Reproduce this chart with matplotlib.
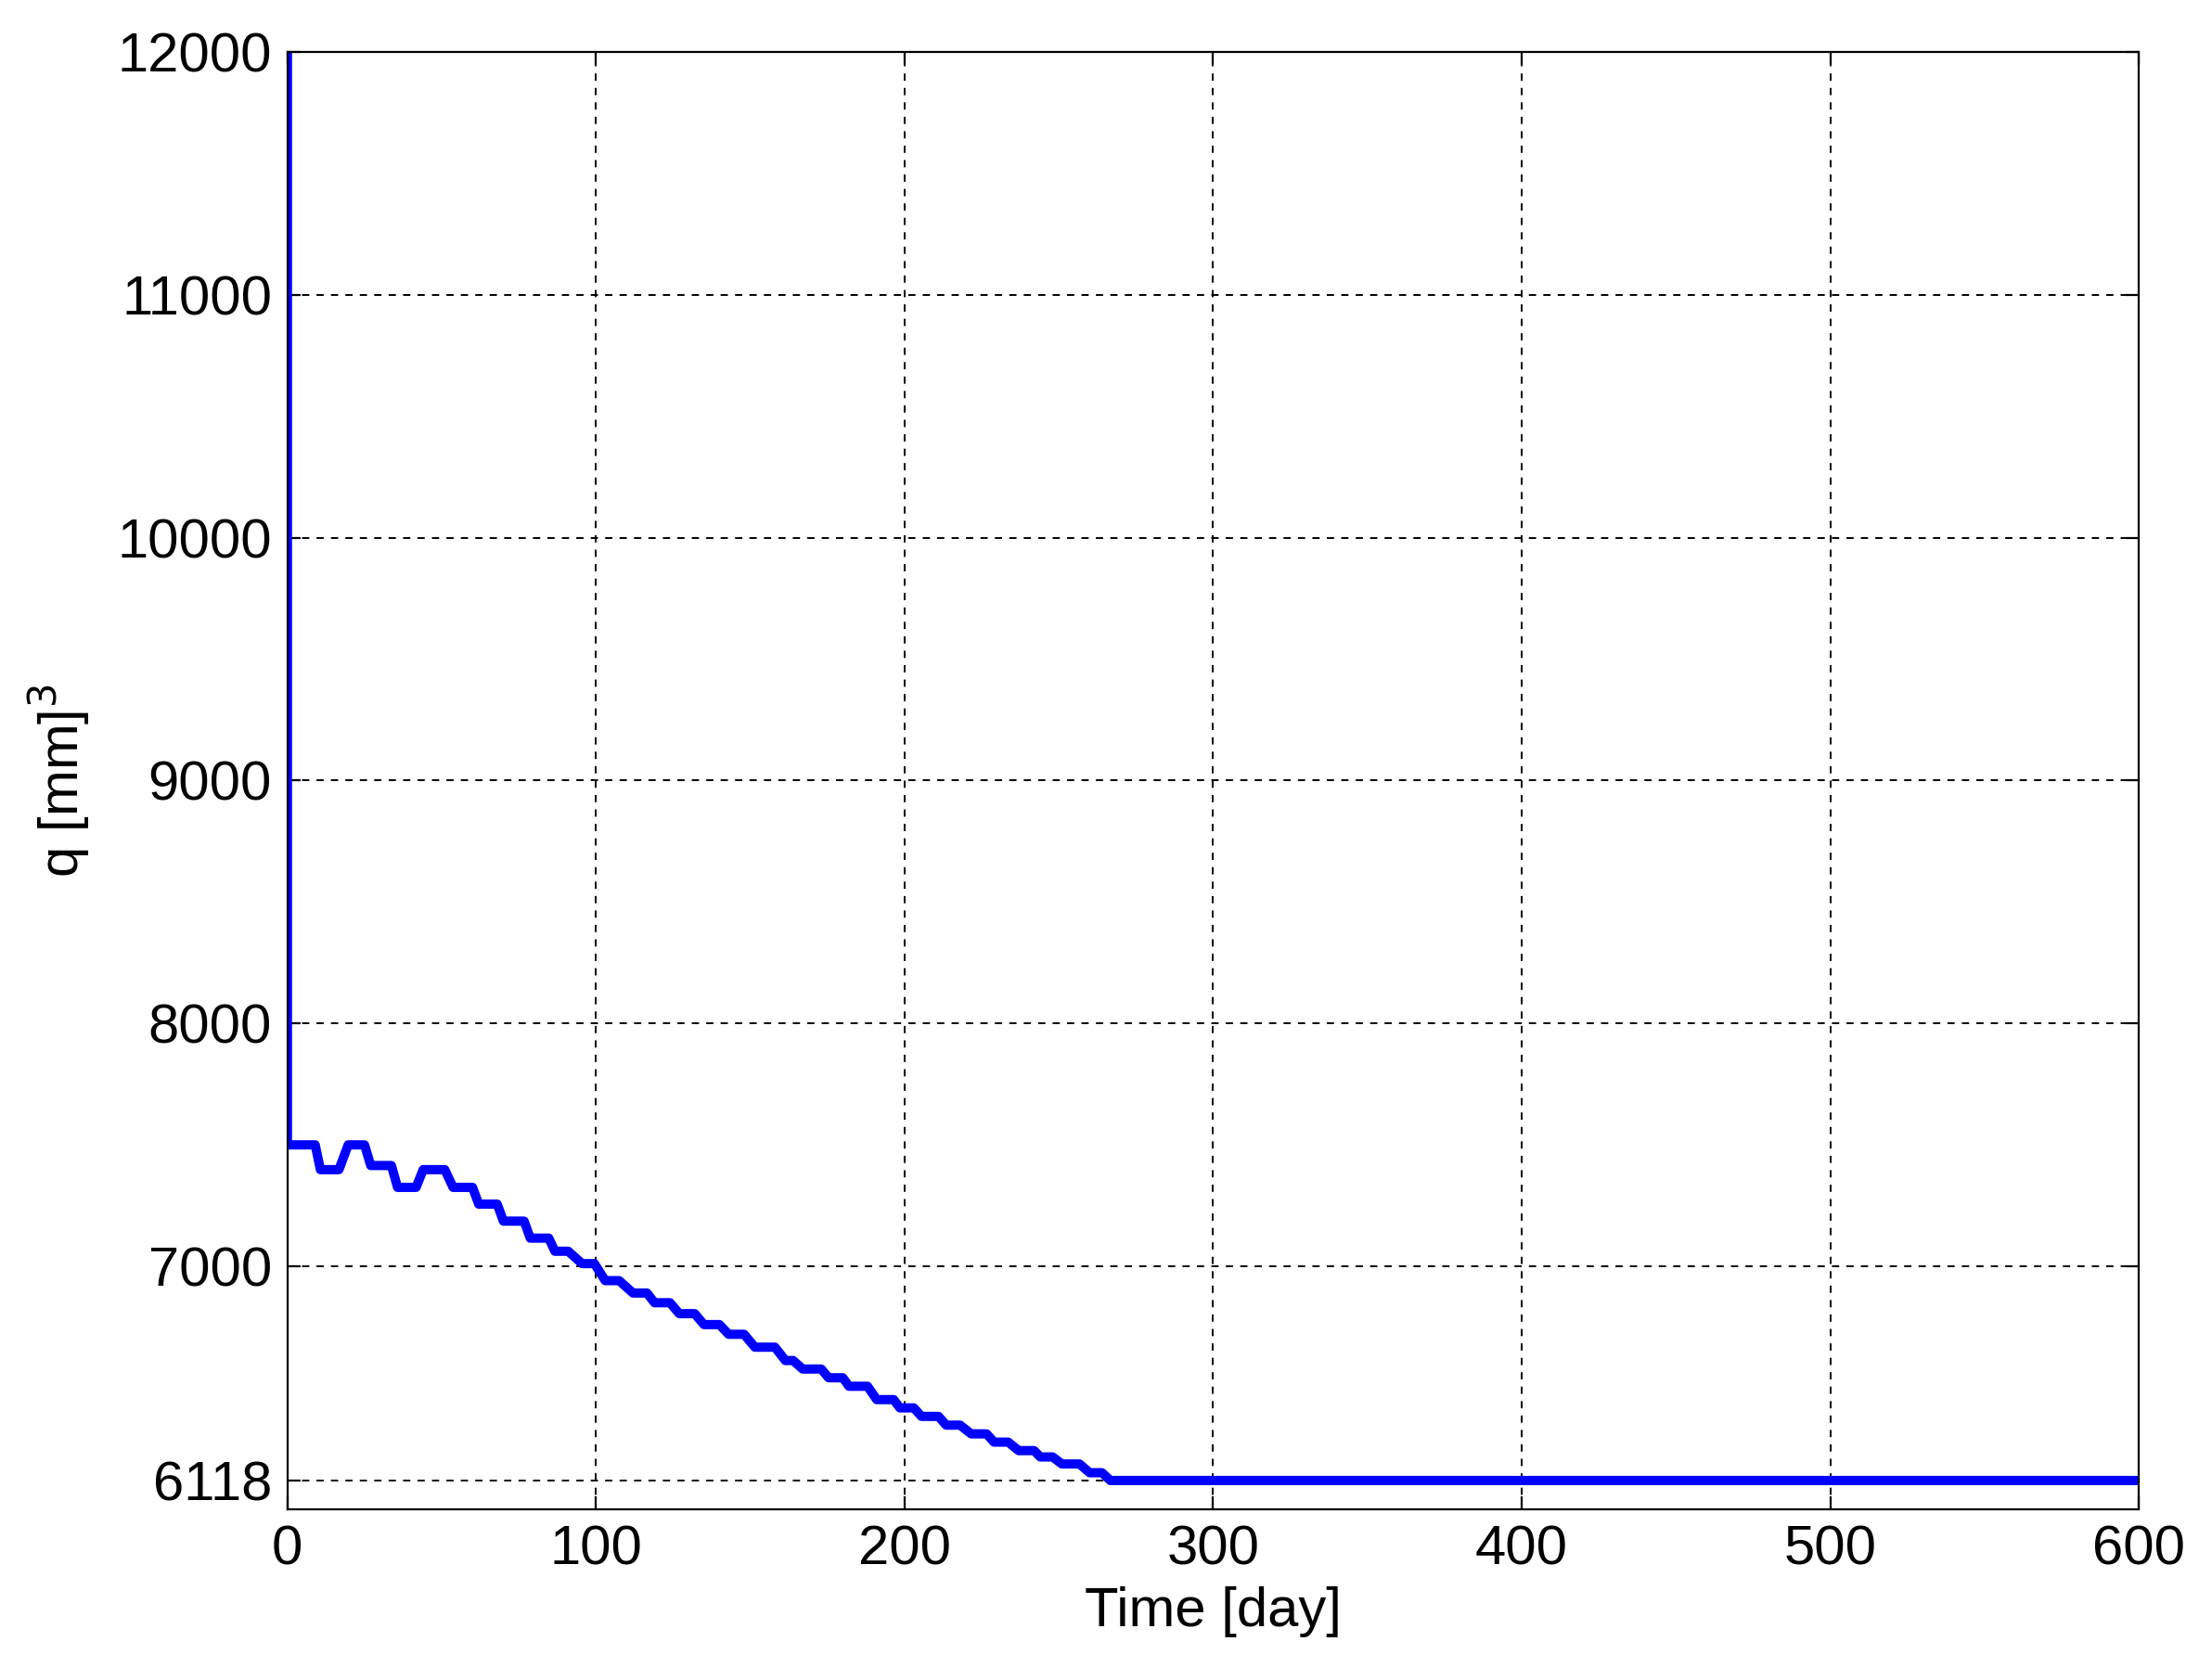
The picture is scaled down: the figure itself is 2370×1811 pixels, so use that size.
import numpy as np
import matplotlib
matplotlib.use('Agg')
import matplotlib.pyplot as plt

plt.rcParams['font.family'] = ['Liberation Sans', 'DejaVu Sans']

# step levels: (start day, end day, q)
seg_start = [0, 10.7, 19.7, 27, 35.7, 44, 53.7, 62, 70, 78.7, 86.7, 95.5, 103, 112,
             119, 127, 135, 143, 151.5, 161.4, 167, 175.4, 182, 191, 198.5, 205.5,
             213.5, 221.6, 229, 237, 244, 251, 260, 266.7]
seg_end = [9, 16.7, 25, 33.7, 41.7, 51, 60, 68, 76.7, 84.7, 91, 99.5, 107.5, 116.5,
           124, 132, 140, 148, 158, 163.9, 173, 180, 188, 196.5, 203, 211,
           218, 226.6, 233.6, 242, 248, 256.7, 264, 600]
seg_q = [7500, 7398, 7500, 7415, 7325, 7398, 7325, 7256, 7186, 7116, 7062, 7011, 6941, 6890,
         6850, 6805, 6760, 6720, 6667, 6612, 6577, 6541, 6506, 6451, 6417, 6382,
         6346, 6310, 6276, 6241, 6215, 6186, 6150, 6118]
q_start = 12000

t = [0]
q = [q_start]
for a, b, v in zip(seg_start, seg_end, seg_q):
    t += [a, b]
    q += [v, v]

fig = plt.figure(figsize=(11.85, 9.055), dpi=200)
ax = fig.add_axes([0.1307, 0.1017, 0.8419, 0.8673])
ax.plot(t, q, color='#0000ff', lw=3.6, solid_joinstyle='round')
ax.set_xlim(0, 600)
ax.set_ylim(6000, 12000)
ax.set_xticks(np.arange(0, 601, 100))
ax.set_yticks([6118, 7000, 8000, 9000, 10000, 11000, 12000])
ax.grid(True, color='black', linestyle=(0, (4, 4)), linewidth=0.7)
ax.tick_params(labelsize=21.5, direction='in', length=5, width=0.8, pad=6)
ax.tick_params(top=True, right=True)
for s in ax.spines.values():
    s.set_linewidth(0.8)
ax.set_xlabel('Time [day]', fontsize=21.5, labelpad=4)
ax.set_ylabel('q [mm]$^3$', fontsize=21.5, labelpad=10)
fig.savefig('out.png', dpi=200)
